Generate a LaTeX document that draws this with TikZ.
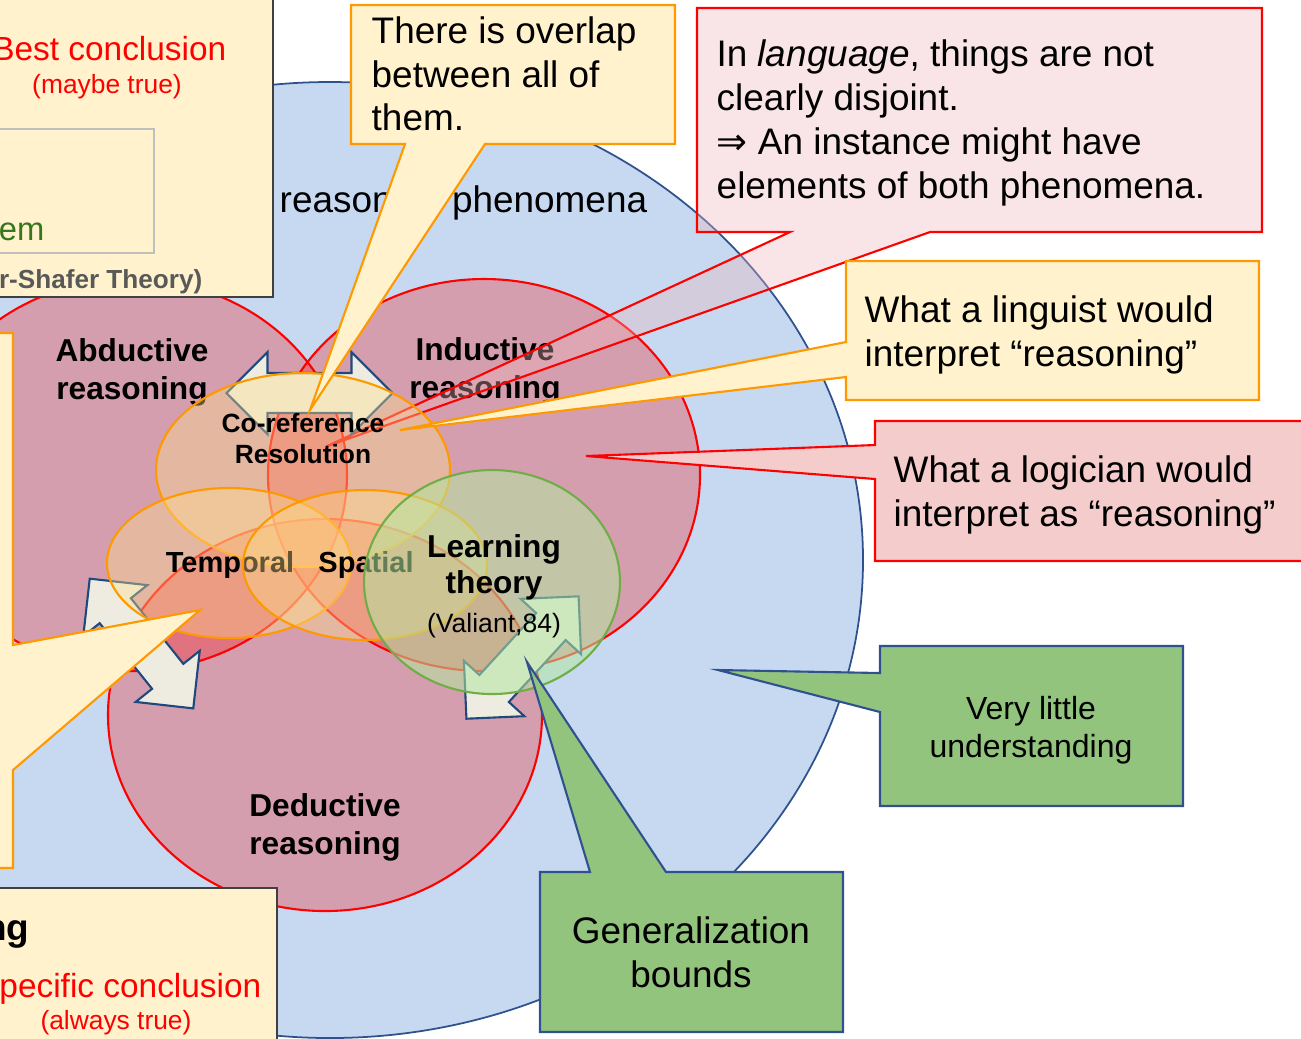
\documentclass[tikz,border=0pt]{standalone}
\usepackage{fontspec}
\setmainfont{Liberation Sans}
\newfontfamily\symfont{DejaVu Sans}

\definecolor{bluefill}{RGB}{198,217,241}
\definecolor{blueline}{RGB}{47,82,143}
\definecolor{notefill}{RGB}{255,242,204}
\definecolor{noteline}{RGB}{255,153,0}
\definecolor{pinkfill}{RGB}{238,181,186}
\definecolor{rosefill}{RGB}{244,204,204}
\definecolor{leaf}{RGB}{147,196,125}
\definecolor{phenfill}{RGB}{255,225,140}
\definecolor{learnfill}{RGB}{180,230,160}
\definecolor{learnline}{RGB}{112,173,71}
\definecolor{arrowfill}{RGB}{238,236,225}
\definecolor{arrowline}{RGB}{31,73,125}
\definecolor{boxline}{RGB}{64,64,64}
\definecolor{innerline}{RGB}{191,191,191}
\definecolor{darkgreen}{RGB}{56,118,29}
\definecolor{greytext}{RGB}{89,89,89}

\newcommand{\fsz}[2]{\fontsize{#1}{#2}\selectfont}

\begin{document}
\begin{tikzpicture}[x=0.01cm,y=-0.01cm,
  reasoning/.style={draw=red, line width=0.6pt, fill=red, fill opacity=0.27},
  phenomenon/.style={draw=noteline, line width=0.6pt, fill=phenfill, fill opacity=0.38},
  learning/.style={draw=learnline, line width=0.6pt, fill=learnfill, fill opacity=0.55},
  notecall/.style={draw=noteline, line width=0.6pt, fill=notefill, line join=miter},
  pinkcall/.style={draw=red, line width=0.6pt, fill=pinkfill, fill opacity=0.35},
  rosecall/.style={draw=red, line width=0.6pt, fill=rosefill},
  leafcall/.style={draw=blueline, line width=0.6pt, fill=leaf},
  greybox/.style={draw=boxline, line width=0.7pt, fill=notefill},
  lbl/.style={inner sep=0pt},
  bigtxt/.style={lbl, font=\fsz{10.5}{12.5}},
  kindtxt/.style={lbl, anchor=base, font=\bfseries\fsz{9}{10.8}},
  dblarrow/.pic={
    \draw[draw=arrowline, line width=0.6pt, fill=arrowfill, line join=miter]
      (83,0) -- (42,41) -- (42,20) -- (-42,20) -- (-42,41) -- (-83,0)
      -- (-42,-41) -- (-42,-20) -- (42,-20) -- (42,-41) -- cycle;
  }
]
\useasboundingbox (0,0) rectangle (1301,1038);
\clip (0,0) rectangle (1301,1038);

% the space of reasoning phenomena
\draw[draw=blueline, line width=0.5pt, fill=bluefill] (330,560) ellipse [x radius=533, y radius=478];

% three kinds of reasoning
\draw[reasoning] (131,475) ellipse [x radius=216, y radius=196];
\draw[reasoning] (484,475) ellipse [x radius=216, y radius=196];
\draw[reasoning] (325,715) ellipse [x radius=217, y radius=196];

\node[kindtxt] (abd1) at (132,361) {Abductive};
\node[kindtxt] (abd2) at (132,399) {reasoning};
\node[kindtxt] (ind1) at (485,360) {Inductive};
\node[kindtxt] (ind2) at (485,398) {reasoning};
\node[kindtxt] (ded1) at (325,816) {Deductive};
\node[kindtxt] (ded2) at (325,854) {reasoning};
\node[bigtxt, anchor=base west] (phen) at (279,212) {reasoning phenomena};

% note on language
\draw[pinkcall] (697,8) -- (1262,8) -- (1262,232) -- (930,232) -- (325,447)
  -- (790,232) -- (697,232) -- cycle;
\node[bigtxt, anchor=base west] (lang1) at (716,66) {In \textit{language}, things are not};
\node[bigtxt, anchor=base west] (lang2) at (716,110) {clearly disjoint.};
\node[bigtxt, anchor=base west] (lang3) at (716,154) {{\symfont ⇒} An instance might have};
\node[bigtxt, anchor=base west] (lang4) at (716,198) {elements of both phenomena.};

% double arrows between the kinds of reasoning
\pic at (309.5,393) {dblarrow};
\pic[rotate=-51.4] at (141.5,643.5) {dblarrow};
\pic[rotate=47.5] at (522.5,657.5) {dblarrow};

% phenomena
\draw[phenomenon] (303,470) ellipse [x radius=147, y radius=97];
\node[lbl, anchor=base, font=\bfseries\fsz{7.5}{9}] (cor1) at (303,432) {Co-reference};
\node[lbl, anchor=base, font=\bfseries\fsz{7.5}{9}] (cor2) at (303,463) {Resolution};
\draw[phenomenon] (229,563) ellipse [x radius=122, y radius=75];
\node[lbl, anchor=base, font=\bfseries\fsz{8.25}{10}] (temp) at (230,572) {Temporal};
\draw[phenomenon] (365,565) ellipse [x radius=122, y radius=75];
\node[lbl, anchor=base, font=\bfseries\fsz{8.25}{10}] (spat) at (366,572) {Spatial};
\draw[learning] (492,582) ellipse [x radius=128, y radius=112];
\node[kindtxt] (lt1) at (494,557) {Learning};
\node[kindtxt] (lt2) at (494,593) {theory};
\node[lbl, anchor=base, font=\fsz{7.55}{9}] (lt3) at (494,632) {(Valiant,84)};

% overlap note
\draw[notecall] (351,5) -- (675,5) -- (675,144) -- (485,144) -- (310,410)
  -- (405,144) -- (351,144) -- cycle;
\node[bigtxt, anchor=base west] (ov1) at (371,43) {There is overlap};
\node[bigtxt, anchor=base west] (ov2) at (371,87) {between all of};
\node[bigtxt, anchor=base west] (ov3) at (371,130) {them.};

% linguist note
\draw[notecall] (846,261) -- (1259,261) -- (1259,400) -- (846,400) -- (846,377)
  -- (400,430) -- (846,342) -- cycle;
\node[bigtxt, anchor=base west] (ling1) at (864,322) {What a linguist would};
\node[bigtxt, anchor=base west] (ling2) at (864,366) {interpret “reasoning”};

% logician note
\draw[rosecall] (875,421) -- (1320,421) -- (1320,561) -- (875,561) -- (875,479)
  -- (586,456) -- (875,445) -- cycle;
\node[bigtxt, anchor=base west] (logi1) at (893,482) {What a logician would};
\node[bigtxt, anchor=base west] (logi2) at (893,526) {interpret as “reasoning”};

% understanding notes
\draw[leafcall] (880,646) -- (1183,646) -- (1183,806) -- (880,806) -- (880,712)
  -- (718,670) -- (880,673) -- cycle;
\node[lbl, anchor=base, font=\fsz{9.1}{10.8}] (vl1) at (1031,719) {Very little};
\node[lbl, anchor=base, font=\fsz{9.1}{10.8}] (vl2) at (1031,757) {understanding};
\draw[leafcall] (540,872) -- (590,872) -- (527,662) -- (666,872) -- (843,872)
  -- (843,1032) -- (540,1032) -- cycle;
\node[bigtxt, anchor=base] (gb1) at (691,943) {Generalization};
\node[bigtxt, anchor=base] (gb2) at (691,987) {bounds};

% abductive summary box
\draw[greybox] (-20,-20) rectangle (273,297);
\draw[draw=innerline, line width=0.8pt] (-20,129) rectangle (154,253);
\node[lbl, anchor=base east, text=red, font=\fsz{9.5}{11}] (best) at (227,60) {Best conclusion};
\node[lbl, anchor=base, text=red, font=\fsz{7.5}{9}] (maybe) at (107,93) {(maybe true)};
\node[lbl, anchor=base east, text=darkgreen, font=\fsz{9.3}{11}] (em) at (45,240) {em};
\node[lbl, anchor=base east, text=greytext, font=\bfseries\fsz{7.43}{9}] (ds) at (203,288) {(Dempster-Shafer Theory)};

% side note
\draw[notecall] (-20,333) -- (13,333) -- (13,645) -- (200,610) -- (13,770)
  -- (13,868) -- (-20,868) -- cycle;

% deductive summary box
\draw[greybox] (-20,888) rectangle (277,1060);
\node[lbl, anchor=base east, font=\bfseries\fsz{10.5}{12.5}] (dr) at (30,940) {Reasoning};
\node[lbl, anchor=base east, text=red, font=\fsz{9.5}{11}] (spec) at (262,997) {Specific conclusion};
\node[lbl, anchor=base, text=red, font=\fsz{7.5}{9}] (always) at (116,1029) {(always true)};
\end{tikzpicture}
\end{document}
